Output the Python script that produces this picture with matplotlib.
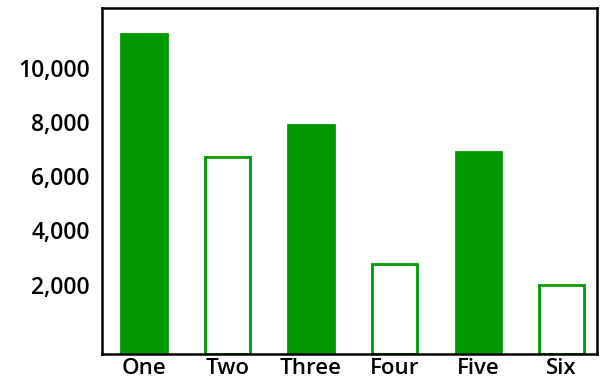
import matplotlib
matplotlib.use("Agg")
import matplotlib.pyplot as plt
from matplotlib.ticker import FuncFormatter


# ==========================================
# DATOS
# ==========================================

categorias = ["One", "Two", "Three", "Four", "Five", "Six"]

valores = [11250, 6700, 7900, 2750, 6900, 2000]

rellenas = [True, False, True, False, True, False]

ticks_y = [2000, 4000, 6000, 8000, 10000]

VERDE = "#009a00"

Y_MIN = -550
Y_MAX = 12200


# ==========================================
# FIGURA
# ==========================================

plt.rcParams["font.family"] = ["Open Sans", "DejaVu Sans"]
plt.rcParams["font.weight"] = "semibold"

fig = plt.figure(figsize=(6.01, 3.83), dpi=100)

ax = fig.add_axes([0.170, 0.076, 0.823, 0.903])

posiciones = list(range(len(categorias)))

for pos, val, llena in zip(posiciones, valores, rellenas):
    ax.bar(
        pos,
        val - Y_MIN,
        bottom=Y_MIN,
        width=0.54,
        color=VERDE if llena else "white",
        edgecolor=VERDE,
        linewidth=2.0,
        zorder=2,
    )


# ==========================================
# EJES
# ==========================================

ax.set_ylim(Y_MIN, Y_MAX)
ax.set_xlim(-0.5, len(categorias) - 0.58)

ax.set_yticks(ticks_y)
ax.yaxis.set_major_formatter(FuncFormatter(lambda v, p: f"{int(v):,}"))

ax.set_xticks(posiciones)
ax.set_xticklabels(categorias)

ax.tick_params(axis="y", length=0, pad=9, labelsize=16.5)
ax.tick_params(axis="x", length=0, pad=3, labelsize=16)

for lado in ax.spines.values():
    lado.set_linewidth(1.8)
    lado.set_color("black")


# ==========================================
# GUARDAR
# ==========================================

fig.savefig("out.png", dpi=100)
